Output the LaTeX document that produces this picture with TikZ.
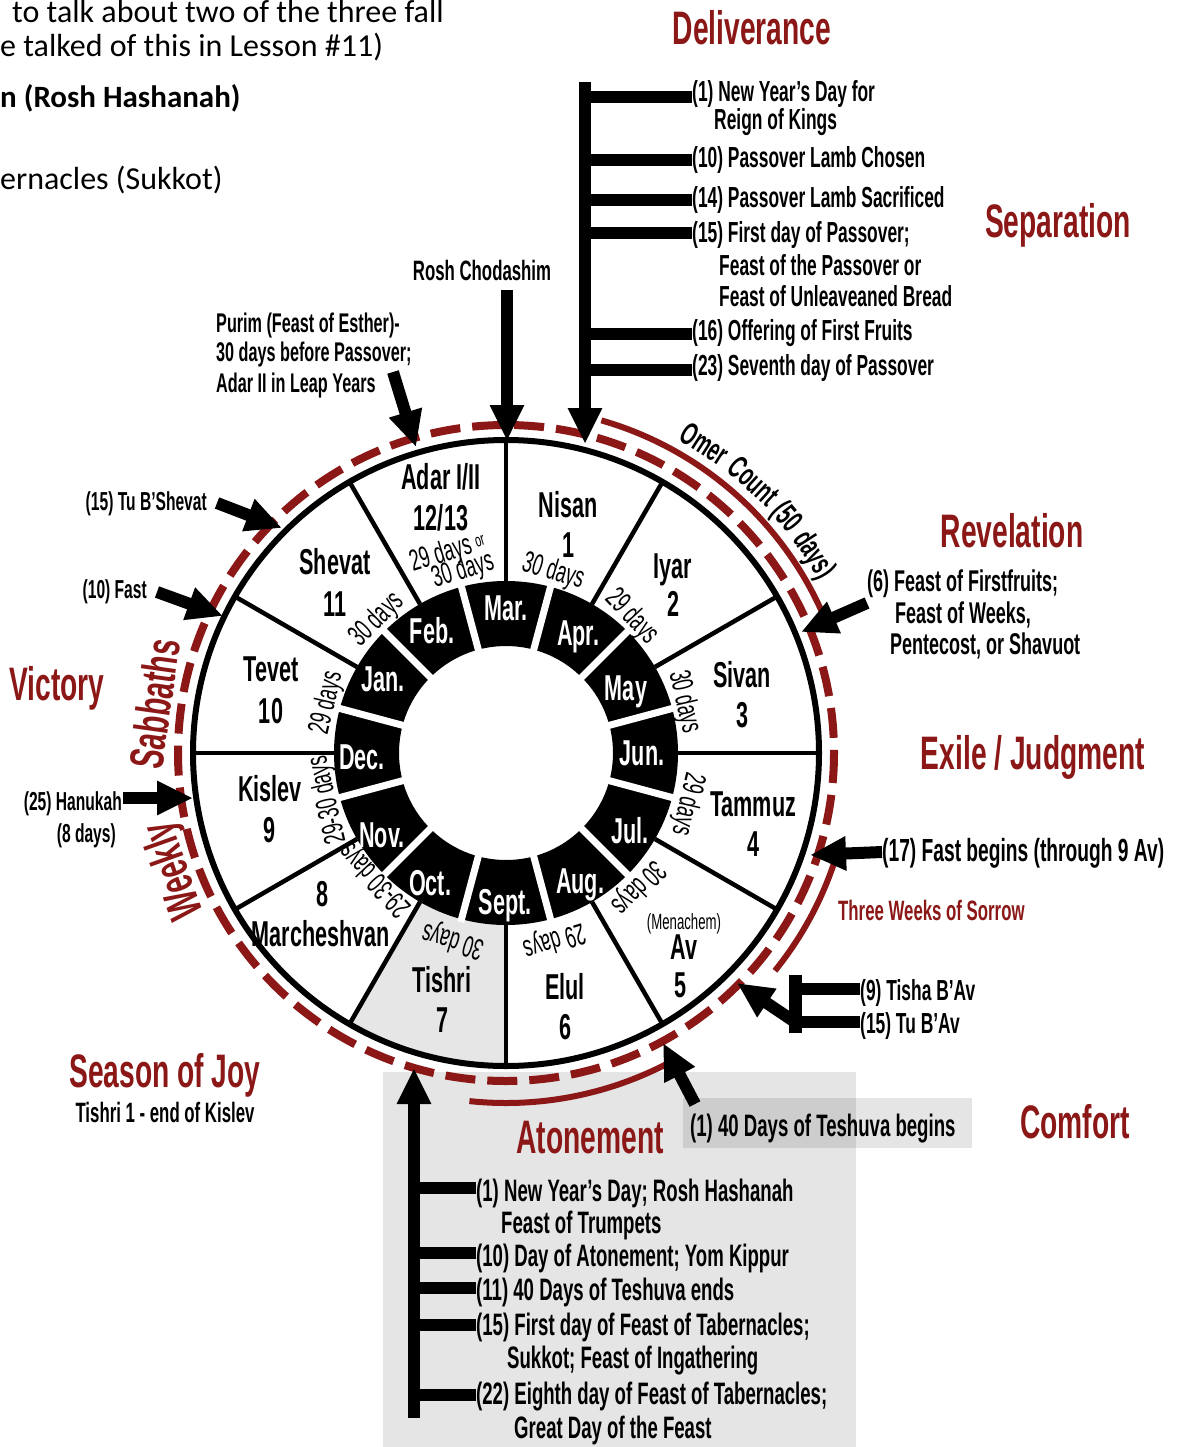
\documentclass[tikz,border=0pt]{standalone}
\usepackage{fontspec}
\usetikzlibrary{arrows.meta,calc}
\newfontfamily\cf[FakeStretch=0.6]{Liberation Sans}
\newfontfamily\calib{Carlito}
\definecolor{myred}{HTML}{8B1717}
\definecolor{lgray}{HTML}{E6E6E6}
\begin{document}
\begin{tikzpicture}[x=1pt,y=-1pt,
  lbl/.style={font=\cf\bfseries\fontsize{29}{34}\selectfont, inner sep=0pt, anchor=base west},
  lblb/.style={font=\cf\bfseries\fontsize{31}{34}\selectfont, inner sep=0pt, anchor=base west},
  lbls/.style={font=\cf\bfseries\fontsize{26}{30}\selectfont, inner sep=0pt, anchor=base east},
  ttl/.style={font=\cf\bfseries\fontsize{47}{50}\selectfont, text=myred, inner sep=0pt, anchor=base},
  mon/.style={font=\cf\bfseries\fontsize{36}{40}\selectfont, inner sep=0pt, anchor=base},
  greg/.style={font=\cf\bfseries\fontsize{36}{40}\selectfont, text=white, inner sep=0pt, anchor=base},
  dayl/.style={font=\cf\fontsize{30}{32}\selectfont, inner sep=0pt},
  omer/.style={font=\cf\bfseries\fontsize{32}{34}\selectfont, inner sep=0pt, anchor=base},
  sab/.style={font=\cf\bfseries\fontsize{48}{50}\selectfont, text=myred, inner sep=0pt, anchor=base},
  doc/.style={font=\calib\fontsize{32}{34}\selectfont, inner sep=0pt, anchor=base west},
  bigarrow/.style={line width=12pt, -{Triangle[length=36pt,width=32pt]}},
  brline/.style={line width=12pt},
]
\useasboundingbox (0,0) rectangle (1181,1447);
\fill[white] (0,0) rectangle (1181,1447);

% gray boxes
\fill[black, fill opacity=0.1] (383,1072) rectangle (856,1447);
\fill[black, fill opacity=0.1] (683,1098) rectangle (972,1148);

% document fragments
\node[doc] (doc1) at (12,23) {to talk about two of the three fall};
\node[doc] (doc2) at (0,57) {e talked of this in Lesson \#11)};
\node[doc, font=\calib\bfseries\fontsize{31}{34}\selectfont] (doc3) at (0,108) {n (Rosh Hashanah)};
\node[doc] (doc4) at (0,190) {ernacles (Sukkot)};

% wheel
\coordinate (C) at (506,753);
\fill[lgray, shift={(C)}] (90:172) -- (90:313) arc[start angle=90, end angle=120, radius=313] -- (120:172) arc[start angle=120, end angle=90, radius=172] -- cycle;
\fill[black, even odd rule] (C) circle[radius=172] (C) circle[radius=107];
\foreach \a in {15,45,...,345} \draw[white, line width=7pt, shift={(C)}] (\a:104) -- (\a:175);
\foreach \a in {0,30,...,330} \draw[line width=4.5pt, shift={(C)}] (\a:172) -- (\a:313);
\draw[line width=6pt] (C) circle[radius=313];
\draw[myred, line width=8pt, dash pattern=on 30pt off 12pt] (C) circle[radius=328];
\draw[myred, line width=6pt, shift={(C)}] (-74:346) arc[start angle=-74, end angle=-24, radius=346];
\draw[myred, line width=6pt, shift={(C)}] (17:346) arc[start angle=17, end angle=39, radius=346];
\draw[myred, line width=6pt, shift={(C)}] (62:350) arc[start angle=62, end angle=96, radius=350];

% curved texts, word by word
\node[omer, rotate=-32.7] (omer1) at ($(C)+(-57.3:357)$) {Omer};
\node[omer, rotate=-42.3] (omer2) at ($(C)+(-47.7:357)$) {Count};
\node[omer, rotate=-50.0] (omer3) at ($(C)+(-40.0:357)$) {(50};
\node[omer, rotate=-57.3] (omer4) at ($(C)+(-32.7:357)$) {days)};
\node[sab, rotate=109.5] (weekly) at ($(C)+(-199.5:338)$) {Weekly};
\node[sab, rotate=82] (sabbaths) at ($(C)+(-172:338)$) {Sabbaths};

% Hebrew months
\node[mon] (nisan) at (568,517) {Nisan};
\node[mon] (nisanN) at (568,557) {1};
\node[mon] (iyar) at (673,578) {Iyar};
\node[mon] (iyarN) at (673,616) {2};
\node[mon] (sivan) at (742,687) {Sivan};
\node[mon] (sivanN) at (742,727) {3};
\node[mon] (tammuz) at (753,816) {Tammuz};
\node[mon] (tammuzN) at (753,856) {4};
\node[font=\cf\fontsize{22}{24}\selectfont, inner sep=0pt, anchor=base] (menachem) at (684,929) {(Menachem)};
\node[mon] (av) at (684,959) {Av};
\node[mon] (avN) at (680,997) {5};
\node[mon] (elul) at (565,999) {Elul};
\node[mon] (elulN) at (565,1039) {6};
\node[mon] (tishri) at (442,992) {Tishri};
\node[mon] (tishriN) at (442,1032) {7};
\node[mon] (cheshN) at (323,906) {8};
\node[mon] (chesh) at (321,946) {Marcheshvan};
\node[mon] (kislev) at (270,801) {Kislev};
\node[mon] (kislevN) at (270,842) {9};
\node[mon] (tevet) at (271,681) {Tevet};
\node[mon] (tevetN) at (271,723) {10};
\node[mon] (shevat) at (335,574) {Shevat};
\node[mon] (shevatN) at (335,616) {11};
\node[mon] (adar) at (441,489) {Adar I/II};
\node[mon] (adarN) at (441,530) {12/13};

% Gregorian months
\node[greg] (mar) at (506,620) {Mar.};
\node[greg] (apr) at (578,645) {Apr.};
\node[greg] (may) at (626,700) {May};
\node[greg] (jun) at (642,765) {Jun.};
\node[greg] (jul) at (630,843) {Jul.};
\node[greg] (aug) at (580,893) {Aug.};
\node[greg] (sep) at (505,914) {Sept.};
\node[greg] (oct) at (430,895) {Oct.};
\node[greg] (nov) at (382,847) {Nov.};
\node[greg] (dec) at (362,769) {Dec.};
\node[greg] (jan) at (383,691) {Jan.};
\node[greg] (feb) at (432,643) {Feb.};

% day counts
\node[dayl, rotate=17] (dAdar1) at (448,553) {29 days \raisebox{5pt}{\fontsize{18}{18}\selectfont or}};
\node[dayl, rotate=17] (dAdar2) at (463,571) {30 days};
\node[dayl, rotate=-17] (dNisan) at (553,572) {30 days};
\node[dayl, rotate=-47] (dIyar) at (632,617) {29 days};
\node[dayl, rotate=-77] (dSivan) at (684,702) {30 days};
\node[dayl, rotate=-103] (dTammuz) at (687,804) {29 days};
\node[dayl, rotate=-135] (dAv) at (638,887) {30 days};
\node[dayl, rotate=-163] (dElul) at (554,940) {29 days};
\node[dayl, rotate=163] (dTishri) at (453,940) {30 days};
\node[dayl, rotate=133] (dChesh) at (376,879) {29-30 days};
\node[dayl, rotate=103] (dKislev) at (328,800) {29-30 days};
\node[dayl, rotate=77] (dTevet) at (327,703) {29 days};
\node[dayl, rotate=45] (dShevat) at (377,620) {30 days};

% titles
\node[ttl] (deliv) at (752,45) {Deliverance};
\node[ttl] (separ) at (1058,238) {Separation};
\node[ttl] (revel) at (1012,547) {Revelation};
\node[ttl] (exile) at (1033,769) {Exile / Judgment};
\node[ttl] (comfort) at (1075,1138) {Comfort};
\node[ttl] (atone) at (590,1153) {Atonement};
\node[ttl] (joy) at (165,1087) {Season of Joy};
\node[ttl] (victory) at (57,700) {Victory};
\node[lbl, text=myred, font=\cf\bfseries\fontsize{28}{30}\selectfont] (sorrow) at (838,920) {Three Weeks of Sorrow};
\node[lbl, anchor=base, font=\cf\bfseries\fontsize{28}{30}\selectfont] (joysub) at (165,1122) {Tishri 1 - end of Kislev};

% Deliverance labels
\node[lbl] (e1) at (692,102) {(1) New Year’s Day for};
\node[lbl] (e1b) at (714,130) {Reign of Kings};
\node[lbl] (e10) at (692,168) {(10) Passover Lamb Chosen};
\node[lbl] (e14) at (692,208) {(14) Passover Lamb Sacrificed};
\node[lbl] (e15) at (692,243) {(15) First day of Passover;};
\node[lbl] (e15b) at (719,275) {Feast of the Passover or};
\node[lbl] (e15c) at (719,306) {Feast of Unleaveaned Bread};
\node[lbl] (e16) at (692,340) {(16) Offering of First Fruits};
\node[lbl] (e23) at (692,375) {(23) Seventh day of Passover};

% other labels
\node[lbl, font=\cf\bfseries\fontsize{28}{30}\selectfont, anchor=base] (rosh) at (482,280) {Rosh Chodashim};
\node[lbl, font=\cf\bfseries\fontsize{27}{30}\selectfont] (purim1) at (216,332) {Purim (Feast of Esther)-};
\node[lbl, font=\cf\bfseries\fontsize{27}{30}\selectfont] (purim2) at (216,361) {30 days before Passover;};
\node[lbl, font=\cf\bfseries\fontsize{27}{30}\selectfont] (purim3) at (216,392) {Adar II in Leap Years};
\node[lbls] (tubsh) at (207,510) {(15) Tu B’Shevat};
\node[lbls] (fast10) at (147,598) {(10) Fast};
\node[lbls] (hanu) at (122,810) {(25) Hanukah};
\node[lbls] (hanu2) at (116,842) {(8 days)};
\node[lbl, font=\cf\bfseries\fontsize{30}{34}\selectfont] (ff1) at (867,591) {(6) Feast of Firstfruits;};
\node[lbl, font=\cf\bfseries\fontsize{30}{34}\selectfont] (ff2) at (895,623) {Feast of Weeks,};
\node[lbl, font=\cf\bfseries\fontsize{30}{34}\selectfont] (ff3) at (890,654) {Pentecost, or Shavuot};
\node[lbl, font=\cf\bfseries\fontsize{32}{34}\selectfont] (fast17) at (882,861) {(17) Fast begins (through 9 Av)};
\node[lbl] (tisha) at (860,1000) {(9) Tisha B’Av};
\node[lbl] (tuav) at (860,1033) {(15) Tu B’Av};
\node[lblb] (teshb) at (690,1136) {(1) 40 Days of Teshuva begins};

% Atonement labels
\node[lblb] (a1) at (476,1201) {(1) New Year’s Day; Rosh Hashanah};
\node[lblb] (a1b) at (501,1233) {Feast of Trumpets};
\node[lblb] (a10) at (476,1266) {(10) Day of Atonement; Yom Kippur};
\node[lblb] (a11) at (476,1300) {(11) 40 Days of Teshuva ends};
\node[lblb] (a15) at (476,1335) {(15) First day of Feast of Tabernacles;};
\node[lblb] (a15b) at (507,1368) {Sukkot; Feast of Ingathering};
\node[lblb] (a22) at (476,1404) {(22) Eighth day of Feast of Tabernacles;};
\node[lblb] (a22b) at (514,1438) {Great Day of the Feast};

% arrow coordinates
\coordinate (rcS) at (507,290); \coordinate (rcT) at (507,441);
\coordinate (puS) at (393,372); \coordinate (puT) at (416,447);
\coordinate (tbS) at (217,503); \coordinate (tbT) at (282,528);
\coordinate (faS) at (157,592); \coordinate (faT) at (223,616);
\coordinate (haS) at (123,798); \coordinate (haT) at (193,798);
\coordinate (ffS) at (867,603); \coordinate (ffT) at (801,632);
\coordinate (fbS) at (882,852); \coordinate (fbT) at (810,855);
\coordinate (avS) at (795,1022); \coordinate (avT) at (737,983);
\coordinate (teS) at (695,1104); \coordinate (teT) at (663,1043);
\coordinate (dvTop) at (585,82); \coordinate (dvT) at (585,444);
\coordinate (atBot) at (414,1418); \coordinate (atT) at (414,1068);

\draw[bigarrow] (rcS) -- (rcT);
\draw[bigarrow] (puS) -- (puT);
\draw[bigarrow] (tbS) -- (tbT);
\draw[bigarrow] (faS) -- (faT);
\draw[bigarrow] (haS) -- (haT);
\draw[bigarrow] (ffS) -- (ffT);
\draw[bigarrow] (fbS) -- (fbT);
\draw[bigarrow] (avS) -- (avT);
\draw[bigarrow] (teS) -- (teT);
\draw[bigarrow] (dvTop) -- (dvT);
\draw[bigarrow] (atBot) -- (atT);

% brackets
\foreach \y [count=\i] in {97,160,200,233,334,370}
  \draw[brline] (585,\y) coordinate (dA\i) -- (692,\y) coordinate (dB\i);
\foreach \y [count=\i] in {1188,1253,1288,1325,1395}
  \draw[brline] (414,\y) coordinate (aA\i) -- (476,\y) coordinate (aB\i);
\coordinate (tbTop) at (795,975); \coordinate (tbBot) at (795,1033);
\draw[line width=13pt] (tbTop) -- (tbBot);
\draw[brline] (795,989) coordinate (tA1) -- (860,989) coordinate (tB1);
\draw[brline] (795,1022) coordinate (tA2) -- (860,1022) coordinate (tB2);
\end{tikzpicture}
\end{document}
